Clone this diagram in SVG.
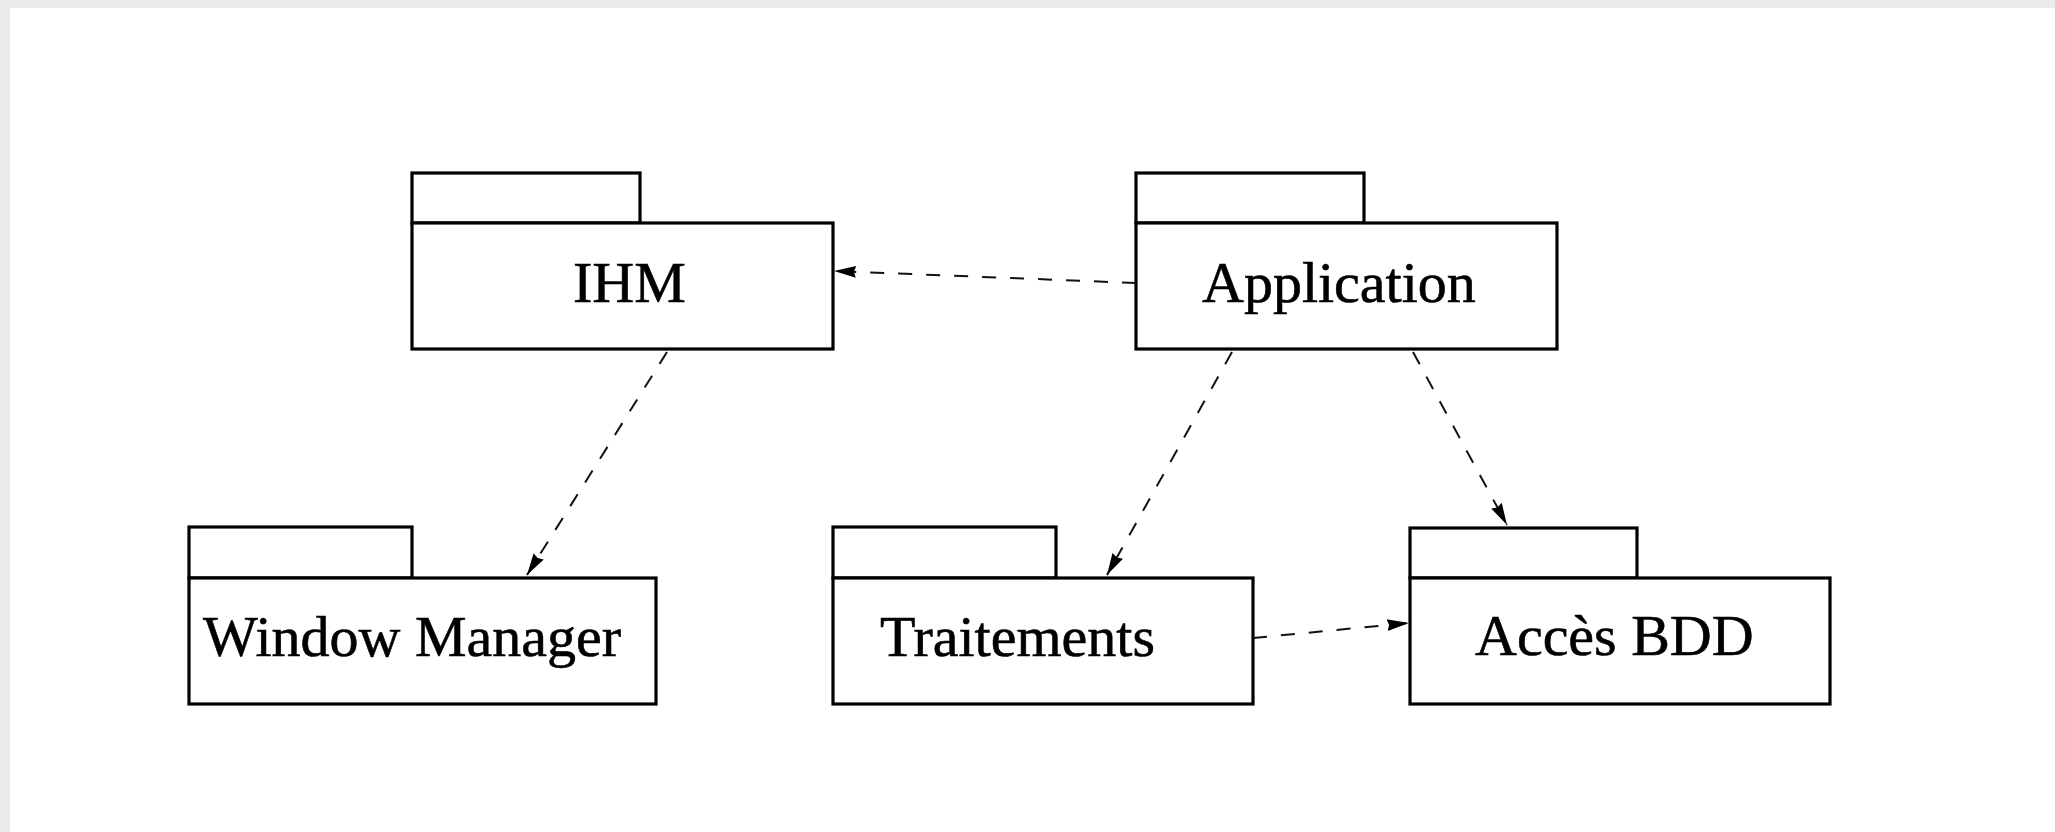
<svg xmlns="http://www.w3.org/2000/svg" width="2055" height="832" viewBox="0 0 2055 832">
<defs>
<style>
.pk{fill:#fff;stroke:#000;stroke-width:3.2}
.lbl{font-family:"Liberation Serif","Times New Roman",serif;font-size:58px;fill:#000;stroke:#000;stroke-width:0.6}
.dep{fill:none;stroke:#111;stroke-width:2;stroke-dasharray:14 14}
</style>
<marker id="ah" viewBox="0 0 22 14" refX="22" refY="7" markerWidth="22" markerHeight="14" markerUnits="userSpaceOnUse" orient="auto">
<path d="M0,1 L22,7 L0,13 L2,7 Z" fill="#000"/>
</marker>
</defs>
<rect x="0" y="0" width="2055" height="832" fill="#ebebeb"/>
<rect x="10" y="8" width="2045" height="824" fill="#fff"/>
<g id="ihm">
<rect class="pk" x="412" y="173" width="228" height="50"/>
<rect class="pk" x="412" y="223" width="421" height="126"/>
<text class="lbl" x="573" y="302">IHM</text>
</g>
<g id="application">
<rect class="pk" x="1136" y="173" width="228" height="50"/>
<rect class="pk" x="1136" y="223" width="421" height="126"/>
<text class="lbl" x="1202" y="302">Application</text>
</g>
<g id="window-manager">
<rect class="pk" x="189" y="527" width="223" height="51"/>
<rect class="pk" x="189" y="578" width="467" height="126"/>
<text class="lbl" x="203" y="656">Window Manager</text>
</g>
<g id="traitements">
<rect class="pk" x="833" y="527" width="223" height="51"/>
<rect class="pk" x="833" y="578" width="420" height="126"/>
<text class="lbl" x="880" y="656">Traitements</text>
</g>
<g id="acces-bdd">
<rect class="pk" x="1410" y="528" width="227" height="50"/>
<rect class="pk" x="1410" y="578" width="420" height="126"/>
<text class="lbl" x="1475" y="655">Accès BDD</text>
</g>
<g id="connectors">
<line class="dep" x1="1136" y1="283" x2="834" y2="271" marker-end="url(#ah)"/>
<line class="dep" x1="667" y1="352" x2="527" y2="575" marker-end="url(#ah)"/>
<line class="dep" x1="1232" y1="352" x2="1107" y2="575" marker-end="url(#ah)"/>
<line class="dep" x1="1413" y1="352" x2="1507" y2="525" marker-end="url(#ah)"/>
<line class="dep" x1="1253" y1="638" x2="1409" y2="623" marker-end="url(#ah)"/>
</g>
</svg>
